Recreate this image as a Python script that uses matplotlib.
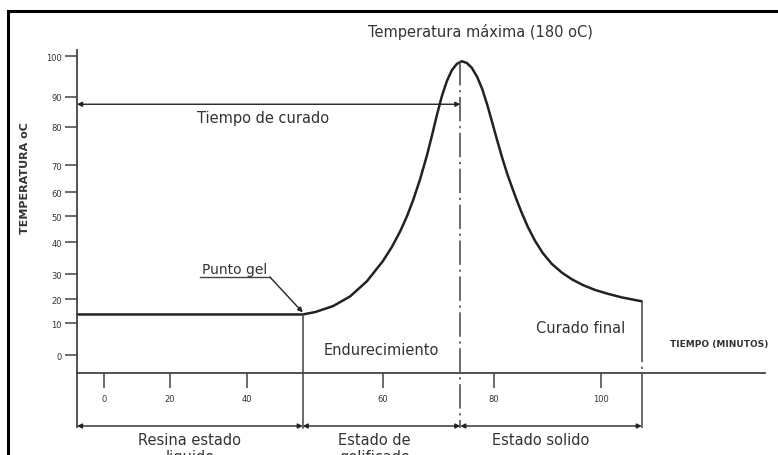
import matplotlib.pyplot as plt
from matplotlib.patches import Rectangle

# ---------------------------
# Data (schematic units)
# ---------------------------
ytick_pos = [0, 10.7, 18.7, 27.1, 37.8, 46.5, 54.5, 63.5, 76.3, 86.4, 100]
ytick_labels = ["0", "10", "20", "30", "40", "50", "60", "70", "80", "90", "100"]
xtick_pos = [0, 13.3, 28.8, 56.1, 78.5, 100]
xtick_labels = ["0", "20", "40", "60", "80", "100"]

# resin flat until gel point, exotherm peak, then cooling tail
curve_x = [-5.4, 40.0, 42.5, 46.1, 49.5, 52.9, 56.1, 57.9, 59.6, 61.0, 62.2,
           63.6, 65.0, 66.0, 67.0, 68.0, 69.0, 70.0, 71.0, 72.0, 73.0, 74.0,
           75.1, 76.1, 77.1, 78.1, 79.1, 80.1, 81.1, 82.1, 83.1, 84.1, 85.3,
           86.7, 88.3, 90.1, 92.2, 94.2, 96.4, 98.8, 101.4, 104.2, 108.2]
curve_y = [13.6, 13.6, 14.4, 16.4, 19.6, 24.7, 31.4, 36.1, 41.4, 46.6, 51.8,
           58.8, 66.9, 73.5, 80.4, 86.7, 91.7, 95.3, 97.4, 98.3, 97.7, 96.1,
           93.0, 89.0, 83.8, 77.9, 71.9, 66.1, 60.8, 56.1, 51.6, 47.4, 42.8,
           38.3, 34.1, 30.5, 27.5, 25.3, 23.4, 21.8, 20.5, 19.3, 18.0]

# ---------------------------
# Layout helpers
# ---------------------------
INK = "#333333"
LINE = "#444444"
FONT = "DejaVu Sans"

fig = plt.figure(figsize=(7.78, 4.56), dpi=100)
ax = fig.add_axes([0, 0, 1, 1])
ax.set_xlim(-20.9, 135.6)
ax.set_ylim(-33.4, 119.1)
ax.patch.set_alpha(0)

axis_x = -5.4   # where the y axis stands
axis_y = -6.0   # where the x axis stands
span_y = -23.7  # bottom dimension line

gel_x = curve_x[1]
peak_i = curve_y.index(max(curve_y))
peak_x = curve_x[peak_i] - 0.3
end_x = curve_x[-1]

# axes spines as in the drawing
for s in ("top", "right"):
    ax.spines[s].set_visible(False)
ax.spines["left"].set_position(("data", axis_x))
ax.spines["bottom"].set_position(("data", axis_y))
ax.spines["left"].set_bounds(-24.0, 102.0)
ax.spines["bottom"].set_bounds(axis_x, 133.0)
for s in ("left", "bottom"):
    ax.spines[s].set_color(LINE)
    ax.spines[s].set_linewidth(1.3)

ax.set_yticks(ytick_pos, labels=ytick_labels)
ax.set_xticks(xtick_pos, labels=xtick_labels)
ax.tick_params(axis="y", direction="out", length=9, width=1.1, pad=2,
               labelsize=6, color=LINE, labelcolor=INK)
ax.tick_params(axis="x", direction="out", length=11, width=1.1, pad=4,
               labelsize=6, color=LINE, labelcolor=INK)

# curve
ax.plot(curve_x, curve_y, color="#222222", lw=1.8,
        solid_capstyle="round", solid_joinstyle="round")

# vertical markers
ax.plot([gel_x, gel_x], [curve_y[1], -24.5], color=LINE, lw=1.1)
ax.plot([peak_x, peak_x], [max(curve_y), -24.5], color=LINE, lw=1.1,
        linestyle=(0, (16, 3, 1.5, 3)))
ax.plot([end_x, end_x], [curve_y[-1], -24.5], color=LINE, lw=1.1,
        linestyle=(0, (40, 3, 1.5, 3)))


def dim_arrow(x0, x1, y):
    ax.annotate("", xy=(x1, y), xytext=(x0, y),
                arrowprops=dict(arrowstyle="<|-|>", color="#222222", lw=1.0,
                                mutation_scale=7, shrinkA=0, shrinkB=0))


# Tiempo de curado
dim_arrow(axis_x, peak_x, 83.9)
ax.text(32.0, 79.6, "Tiempo de curado", fontsize=10.5, color=INK,
        ha="center", va="center", family=FONT)

# peak annotation
ax.text(75.7, 108.4, "Temperatura máxima (180 oC)", fontsize=10.5, color=INK,
        ha="center", va="center", family=FONT)

# Punto gel leader
ax.text(26.3, 28.9, "Punto gel", fontsize=10, color=INK,
        ha="center", va="center", family=FONT)
ax.plot([19.3, 33.4], [26.1, 26.1], color=LINE, lw=1.0)
ax.annotate("", xy=(gel_x, 14.3), xytext=(33.4, 26.1),
            arrowprops=dict(arrowstyle="-|>", color="#222222", lw=1.0,
                            mutation_scale=7, shrinkA=0, shrinkB=0))

# region labels
ax.text(55.8, 2.0, "Endurecimiento", fontsize=10.5, color=INK,
        ha="center", va="center", family=FONT)
ax.text(95.9, 9.4, "Curado final", fontsize=10.5, color=INK,
        ha="center", va="center", family=FONT)
ax.text(123.7, 4.0, "TIEMPO (MINUTOS)", fontsize=6.5, color=INK,
        ha="center", va="center", family=FONT, fontweight="bold")
ax.text(-15.9, 59.5, "TEMPERATURA oC", fontsize=8, color=INK, rotation=90,
        ha="center", va="center", family=FONT, fontweight="bold")

# bottom dimension lines
dim_arrow(axis_x, gel_x, span_y)
dim_arrow(gel_x, peak_x, span_y)
dim_arrow(peak_x, end_x, span_y)
for cx, label in [(17.3, "Resina estado\nliquido"),
                  (54.4, "Estado de\ngelificado"),
                  (87.9, "Estado solido")]:
    ax.text(cx, -25.6, label, fontsize=10.5, color=INK, ha="center", va="top",
            family=FONT, linespacing=1.2)

# outer frame of the drawing (runs off the right and bottom edges)
fig.add_artist(Rectangle((8 / 778, -0.2), 2.0, 1.2 - 12 / 456,
                         transform=fig.transFigure, fill=False,
                         lw=2.2, ec="black"))

fig.savefig("out.png", dpi=100)
